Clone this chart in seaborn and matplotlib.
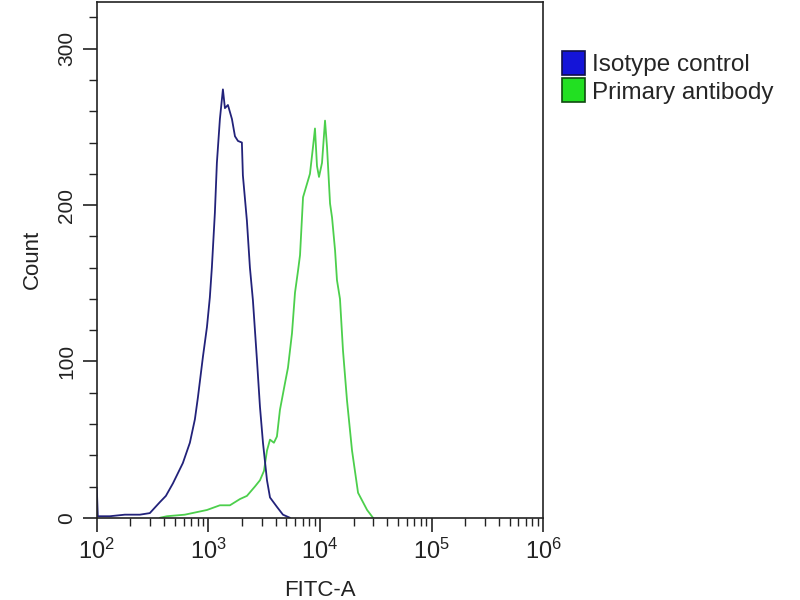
import numpy as np
import pandas as pd
import matplotlib
matplotlib.use("Agg")
import matplotlib.pyplot as plt
from matplotlib.patches import Patch
from matplotlib.ticker import MultipleLocator, LogLocator
import seaborn as sns

# Données : log10(FITC-A) et nombre d'événements
iso_log = [2.000, 2.009, 2.117, 2.251, 2.386, 2.475, 2.565, 2.619, 2.682, 2.771,
           2.834, 2.879, 2.906, 2.951, 2.987, 3.013, 3.031, 3.058, 3.076, 3.103,
           3.130, 3.148, 3.175, 3.211, 3.238, 3.265, 3.300, 3.309, 3.345, 3.372,
           3.399, 3.435, 3.462, 3.489, 3.525, 3.552, 3.614, 3.668, 3.731]
iso_count = [19, 1, 1, 2, 2, 3, 10, 14, 22, 35,
             48, 63, 77, 103, 122, 141, 160, 195, 227, 255,
             274, 262, 264, 255, 244, 241, 240, 219, 190, 160,
             139, 101, 71, 48, 24, 13, 7, 2, 0]

prim_log = [2.565, 2.628, 2.789, 2.987, 3.103, 3.193, 3.283, 3.345, 3.417, 3.462,
            3.498, 3.525, 3.552, 3.587, 3.614, 3.641, 3.686, 3.713, 3.749, 3.776,
            3.803, 3.821, 3.848, 3.910, 3.937, 3.955, 3.973, 3.991, 4.018, 4.045,
            4.063, 4.090, 4.108, 4.135, 4.152, 4.179, 4.206, 4.242, 4.287, 4.341,
            4.422, 4.475]
prim_count = [0, 1, 2, 5, 8, 8, 12, 14, 20, 24,
              30, 43, 50, 48, 52, 69, 86, 96, 118, 144,
              158, 168, 205, 220, 237, 249, 225, 218, 227, 254,
              237, 201, 192, 171, 152, 140, 107, 75, 43, 16,
              5, 0]

labels = ["Isotype control", "Primary antibody"]

sns.set_style("ticks")
plt.rcParams['font.family'] = ['Liberation Sans', 'DejaVu Sans']

iso = pd.DataFrame({'FITC': np.power(10.0, iso_log), 'Count': iso_count})
prim = pd.DataFrame({'FITC': np.power(10.0, prim_log), 'Count': prim_count})

fig = plt.figure(figsize=(8, 6), dpi=100)
ax = fig.add_axes([0.121, 0.137, 0.558, 0.860])

sns.lineplot(data=prim, x='FITC', y='Count', ax=ax, sort=False, estimator=None,
             color='#4ccf4c', lw=1.3)
sns.lineplot(data=iso, x='FITC', y='Count', ax=ax, sort=False, estimator=None,
             color='#22227a', lw=1.3)

ax.set_xscale('log')
ax.set_xlim(1e2, 1e6)
ax.set_ylim(0, 330)
ax.xaxis.set_major_locator(LogLocator(base=10, numticks=10))
ax.xaxis.set_minor_locator(LogLocator(base=10, subs=np.arange(2, 10), numticks=20))
ax.yaxis.set_major_locator(MultipleLocator(100))
ax.yaxis.set_minor_locator(MultipleLocator(20))

for s in ax.spines.values():
    s.set_color('#222222')
    s.set_linewidth(1.2)

ax.tick_params(which='major', length=10, width=1.2, colors='#222222',
               labelsize=15, pad=4)
ax.tick_params(which='minor', length=6, width=1.0, colors='#222222')
ax.tick_params(axis='x', which='major', labelsize=17, pad=5)
ax.tick_params(axis='y', which='major', pad=5)
plt.setp(ax.get_yticklabels(), rotation=90, va='center')

ax.set_xlabel('FITC-A', fontsize=16, color='#222222', labelpad=12)
ax.set_ylabel('Count', fontsize=16, color='#222222', labelpad=10)

handles = [Patch(facecolor='#1414d8', edgecolor='#10104a', lw=1.2),
           Patch(facecolor='#22e022', edgecolor='#104a10', lw=1.2)]
fig.legend(handles, labels, loc='upper left', bbox_to_anchor=(0.690, 0.932),
           frameon=False, fontsize=17.5, handlelength=0.95, handleheight=1.15,
           handletextpad=0.3, labelspacing=0.1, borderaxespad=0)

fig.savefig('out.png', dpi=100)
